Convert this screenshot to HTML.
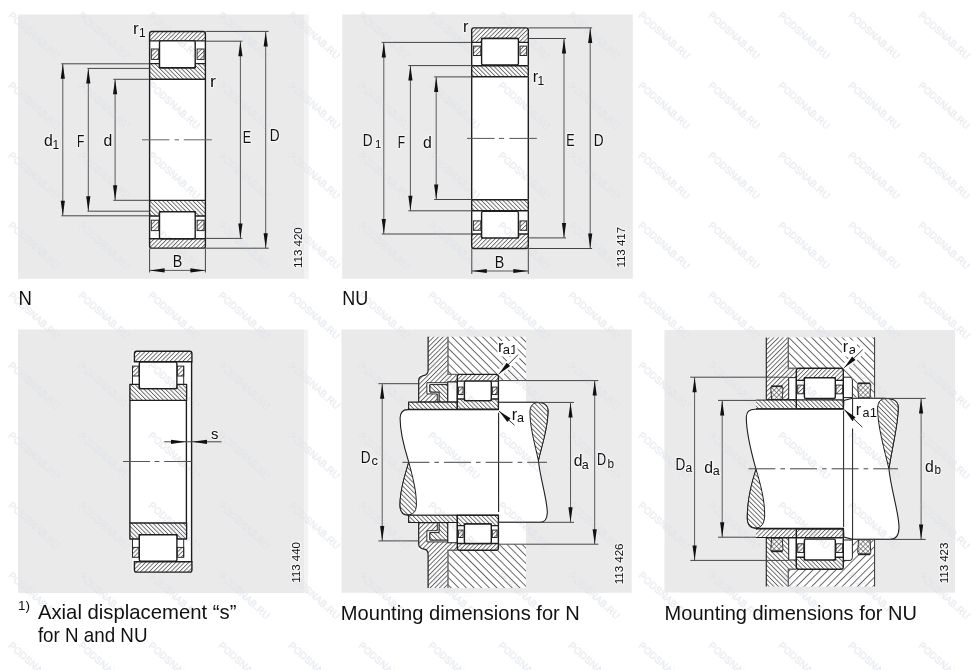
<!DOCTYPE html>
<html><head><meta charset="utf-8"><style>
html,body{margin:0;padding:0;background:#fff;overflow:hidden;width:976px;height:670px;}
svg{display:block;font-family:'Liberation Sans', sans-serif;will-change:transform;}
</style></head><body>
<svg width="976" height="670" viewBox="0 0 976 670">
<defs>
<pattern id="hA" patternUnits="userSpaceOnUse" width="3.05" height="10" patternTransform="rotate(45)">
  <rect x="0" y="0" width="3.05" height="10" fill="#fff"/>
  <line x1="0.5" y1="0" x2="0.5" y2="10" stroke="#2a2a2a" stroke-width="0.75"/>
</pattern>
<pattern id="hB" patternUnits="userSpaceOnUse" width="3.05" height="10" patternTransform="rotate(-45)">
  <rect x="0" y="0" width="3.05" height="10" fill="#fff"/>
  <line x1="0.5" y1="0" x2="0.5" y2="10" stroke="#2a2a2a" stroke-width="0.75"/>
</pattern>
<pattern id="hA2" patternUnits="userSpaceOnUse" width="5.4" height="10" patternTransform="rotate(45)">
  <rect x="0" y="0" width="5.4" height="10" fill="#fff"/>
  <line x1="0.5" y1="0" x2="0.5" y2="10" stroke="#2a2a2a" stroke-width="0.75"/>
</pattern>
<pattern id="hB2" patternUnits="userSpaceOnUse" width="5.4" height="10" patternTransform="rotate(-45)">
  <rect x="0" y="0" width="5.4" height="10" fill="#fff"/>
  <line x1="0.5" y1="0" x2="0.5" y2="10" stroke="#2a2a2a" stroke-width="0.75"/>
</pattern>
<pattern id="hC" patternUnits="userSpaceOnUse" width="3.3" height="10" patternTransform="rotate(45)">
  <rect x="0" y="0" width="3.3" height="10" fill="#fff"/>
  <line x1="0.5" y1="0" x2="0.5" y2="10" stroke="#2a2a2a" stroke-width="0.75"/>
</pattern>
<pattern id="hD" patternUnits="userSpaceOnUse" width="3.3" height="10" patternTransform="rotate(-45)">
  <rect x="0" y="0" width="3.3" height="10" fill="#fff"/>
  <line x1="0.5" y1="0" x2="0.5" y2="10" stroke="#2a2a2a" stroke-width="0.75"/>
</pattern>
<pattern id="hX" patternUnits="userSpaceOnUse" width="3.4" height="3.4" patternTransform="rotate(45)">
  <rect x="0" y="0" width="3.4" height="3.4" fill="#fff"/>
  <line x1="0.5" y1="0" x2="0.5" y2="3.4" stroke="#3a3a3a" stroke-width="0.55"/>
  <line x1="0" y1="0.5" x2="3.4" y2="0.5" stroke="#3a3a3a" stroke-width="0.55"/>
</pattern>
</defs>
<rect x="0" y="0" width="976" height="670" fill="#fff"/>
<rect x="18.00" y="14.50" width="286.60" height="264.30" rx="0" fill="#eaeaea" stroke="none" stroke-width="1" />
<rect x="304.60" y="14.50" width="4.10" height="264.30" rx="0" fill="#f2f2f2" stroke="none" stroke-width="1" />
<rect x="342.20" y="14.50" width="290.60" height="264.30" rx="0" fill="#eaeaea" stroke="none" stroke-width="1" />
<rect x="18.00" y="329.50" width="286.40" height="263.50" rx="0" fill="#eaeaea" stroke="none" stroke-width="1" />
<rect x="304.40" y="329.50" width="3.40" height="263.50" rx="0" fill="#f2f2f2" stroke="none" stroke-width="1" />
<rect x="341.50" y="329.50" width="290.20" height="263.30" rx="0" fill="#eaeaea" stroke="none" stroke-width="1" />
<rect x="664.50" y="330.00" width="290.50" height="262.60" rx="0" fill="#eaeaea" stroke="none" stroke-width="1" />
<rect x="149.60" y="31.50" width="55.80" height="216.60" rx="0" fill="#fff" stroke="none" stroke-width="1" />
<path d="M149.6,40.9 L149.6,33.7 Q149.6,31.5 151.79999999999998,31.5 L203.20000000000002,31.5 Q205.4,31.5 205.4,33.7 L205.4,40.9 Z" fill="url(#hA)" stroke="#1e1e1e" stroke-width="1.4" />
<path d="M149.6,63.6 L159.5,63.6 L159.5,67.8 L195.2,67.8 L195.2,63.6 L205.4,63.6 L205.4,79.2 L149.6,79.2 Z" fill="url(#hB)" stroke="#1e1e1e" stroke-width="1.4" stroke-linejoin="round"/>
<rect x="159.50" y="40.90" width="35.70" height="26.90" rx="1.5" fill="#fff" stroke="#1e1e1e" stroke-width="1.4" />
<rect x="151.30" y="49.00" width="7.40" height="10.40" rx="0" fill="url(#hA)" stroke="#2a2a2a" stroke-width="1.0" />
<rect x="197.10" y="49.00" width="7.00" height="10.40" rx="0" fill="url(#hA)" stroke="#2a2a2a" stroke-width="1.0" />
<path d="M149.6,238.70000000000002 L205.4,238.70000000000002 L205.4,245.90000000000003 Q205.4,248.10000000000002 203.20000000000002,248.10000000000002 L151.79999999999998,248.10000000000002 Q149.6,248.10000000000002 149.6,245.90000000000003 Z" fill="url(#hA)" stroke="#1e1e1e" stroke-width="1.4" />
<path d="M149.6,216.00000000000003 L159.5,216.00000000000003 L159.5,211.8 L195.2,211.8 L195.2,216.00000000000003 L205.4,216.00000000000003 L205.4,200.40000000000003 L149.6,200.40000000000003 Z" fill="url(#hB)" stroke="#1e1e1e" stroke-width="1.4" stroke-linejoin="round"/>
<rect x="159.50" y="211.80" width="35.70" height="26.90" rx="1.5" fill="#fff" stroke="#1e1e1e" stroke-width="1.4" />
<rect x="151.30" y="220.20" width="7.40" height="10.40" rx="0" fill="url(#hA)" stroke="#2a2a2a" stroke-width="1.0" />
<rect x="197.10" y="220.20" width="7.00" height="10.40" rx="0" fill="url(#hA)" stroke="#2a2a2a" stroke-width="1.0" />
<line x1="149.60" y1="40.90" x2="149.60" y2="63.60" stroke="#1e1e1e" stroke-width="1.4" />
<line x1="149.60" y1="216.00" x2="149.60" y2="238.70" stroke="#1e1e1e" stroke-width="1.4" />
<line x1="205.40" y1="40.90" x2="205.40" y2="63.60" stroke="#1e1e1e" stroke-width="1.4" />
<line x1="205.40" y1="216.00" x2="205.40" y2="238.70" stroke="#1e1e1e" stroke-width="1.4" />
<line x1="149.60" y1="79.20" x2="149.60" y2="200.40" stroke="#1e1e1e" stroke-width="1.4" />
<line x1="205.40" y1="79.20" x2="205.40" y2="200.40" stroke="#1e1e1e" stroke-width="1.4" />
<line x1="61.40" y1="63.80" x2="149.60" y2="63.80" stroke="#444" stroke-width="1" />
<line x1="61.40" y1="215.80" x2="149.60" y2="215.80" stroke="#444" stroke-width="1" />
<line x1="87.50" y1="68.40" x2="149.60" y2="68.40" stroke="#444" stroke-width="1" />
<line x1="87.50" y1="211.20" x2="149.60" y2="211.20" stroke="#444" stroke-width="1" />
<line x1="113.30" y1="79.30" x2="149.60" y2="79.30" stroke="#444" stroke-width="1" />
<line x1="113.30" y1="200.30" x2="149.60" y2="200.30" stroke="#444" stroke-width="1" />
<line x1="205.40" y1="31.40" x2="268.70" y2="31.40" stroke="#444" stroke-width="1" />
<line x1="205.40" y1="248.20" x2="268.70" y2="248.20" stroke="#444" stroke-width="1" />
<line x1="205.40" y1="41.20" x2="242.40" y2="41.20" stroke="#444" stroke-width="1" />
<line x1="205.40" y1="238.40" x2="242.40" y2="238.40" stroke="#444" stroke-width="1" />
<line x1="62.80" y1="63.80" x2="62.80" y2="215.80" stroke="#5a5a5a" stroke-width="1" />
<path d="M62.80,63.80 L64.90,78.80 L60.70,78.80 Z" fill="#111"/>
<path d="M62.80,215.80 L60.70,200.80 L64.90,200.80 Z" fill="#111"/>
<line x1="88.30" y1="68.40" x2="88.30" y2="211.20" stroke="#5a5a5a" stroke-width="1" />
<path d="M88.30,68.40 L90.40,83.40 L86.20,83.40 Z" fill="#111"/>
<path d="M88.30,211.20 L86.20,196.20 L90.40,196.20 Z" fill="#111"/>
<line x1="115.10" y1="79.30" x2="115.10" y2="200.30" stroke="#5a5a5a" stroke-width="1" />
<path d="M115.10,79.30 L117.20,94.30 L113.00,94.30 Z" fill="#111"/>
<path d="M115.10,200.30 L113.00,185.30 L117.20,185.30 Z" fill="#111"/>
<line x1="240.40" y1="41.20" x2="240.40" y2="238.40" stroke="#5a5a5a" stroke-width="1" />
<path d="M240.40,41.20 L242.50,56.20 L238.30,56.20 Z" fill="#111"/>
<path d="M240.40,238.40 L238.30,223.40 L242.50,223.40 Z" fill="#111"/>
<line x1="265.70" y1="31.40" x2="265.70" y2="248.20" stroke="#5a5a5a" stroke-width="1" />
<path d="M265.70,31.40 L267.80,46.40 L263.60,46.40 Z" fill="#111"/>
<path d="M265.70,248.20 L263.60,233.20 L267.80,233.20 Z" fill="#111"/>
<line x1="142.00" y1="139.80" x2="211.80" y2="139.80" stroke="#666" stroke-width="1" stroke-dasharray="27.4,5.2,4.4,4.8,60"/>
<line x1="149.60" y1="248.50" x2="149.60" y2="272.50" stroke="#444" stroke-width="1" />
<line x1="205.40" y1="248.50" x2="205.40" y2="272.50" stroke="#444" stroke-width="1" />
<line x1="149.60" y1="270.40" x2="205.40" y2="270.40" stroke="#5a5a5a" stroke-width="1" />
<path d="M149.60,270.40 L164.60,268.30 L164.60,272.50 Z" fill="#111"/>
<path d="M205.40,270.40 L190.40,272.50 L190.40,268.30 Z" fill="#111"/>
<text transform="translate(44.04,145.80) scale(0.97,1)" font-size="16.3" fill="#111" stroke="#fff" stroke-opacity="0.5" stroke-width="2.6" paint-order="stroke" stroke-linejoin="round">d</text>
<text transform="translate(52.59,148.60) scale(1.0,1)" font-size="12" fill="#111" stroke="#fff" stroke-opacity="0.5" stroke-width="2.6" paint-order="stroke" stroke-linejoin="round">1</text>
<text transform="translate(76.92,146.80) scale(0.72,1)" font-size="16.6" fill="#111" stroke="#fff" stroke-opacity="0.5" stroke-width="2.6" paint-order="stroke" stroke-linejoin="round">F</text>
<text transform="translate(103.54,146.30) scale(0.97,1)" font-size="16.3" fill="#111" stroke="#fff" stroke-opacity="0.5" stroke-width="2.6" paint-order="stroke" stroke-linejoin="round">d</text>
<text transform="translate(242.77,142.70) scale(0.76,1)" font-size="16.6" fill="#111" stroke="#fff" stroke-opacity="0.5" stroke-width="2.6" paint-order="stroke" stroke-linejoin="round">E</text>
<text transform="translate(269.68,140.70) scale(0.82,1)" font-size="16.6" fill="#111" stroke="#fff" stroke-opacity="0.5" stroke-width="2.6" paint-order="stroke" stroke-linejoin="round">D</text>
<text transform="translate(172.73,266.80) scale(0.86,1)" font-size="16.6" fill="#111" stroke="#fff" stroke-opacity="0.5" stroke-width="2.6" paint-order="stroke" stroke-linejoin="round">B</text>
<text transform="translate(132.97,33.90) scale(1.05,1)" font-size="16.2" fill="#111" stroke="#fff" stroke-opacity="0.5" stroke-width="2.6" paint-order="stroke" stroke-linejoin="round">r</text>
<text transform="translate(139.09,36.60) scale(1.0,1)" font-size="12" fill="#111" stroke="#fff" stroke-opacity="0.5" stroke-width="2.6" paint-order="stroke" stroke-linejoin="round">1</text>
<text transform="translate(210.02,86.80) scale(1.1,1)" font-size="16.2" fill="#111" stroke="#fff" stroke-opacity="0.5" stroke-width="2.6" paint-order="stroke" stroke-linejoin="round">r</text>
<text transform="translate(301.8,268) rotate(-90)" font-size="11.5" fill="#111" stroke="#fff" stroke-opacity="0.5" stroke-width="2.6" paint-order="stroke" stroke-linejoin="round">113 420</text>
<rect x="471.70" y="27.90" width="56.60" height="220.60" rx="0" fill="#fff" stroke="none" stroke-width="1" />
<path d="M471.7,42.4 L471.7,30.099999999999998 Q471.7,27.9 473.9,27.9 L526.0999999999999,27.9 Q528.3,27.9 528.3,30.099999999999998 L528.3,42.4 L518.4,42.4 L518.4,38.5 L481.6,38.5 L481.6,42.4 Z" fill="url(#hA)" stroke="#1e1e1e" stroke-width="1.4" stroke-linejoin="round"/>
<rect x="471.70" y="65.70" width="56.60" height="11.00" rx="1.2" fill="url(#hB)" stroke="#1e1e1e" stroke-width="1.4" />
<rect x="481.60" y="38.50" width="36.80" height="26.50" rx="1.5" fill="#fff" stroke="#1e1e1e" stroke-width="1.4" />
<rect x="473.40" y="46.10" width="7.40" height="9.40" rx="0" fill="url(#hA)" stroke="#2a2a2a" stroke-width="1.0" />
<rect x="520.00" y="46.10" width="6.70" height="9.40" rx="0" fill="url(#hA)" stroke="#2a2a2a" stroke-width="1.0" />
<path d="M471.7,233.99999999999997 L471.7,246.29999999999998 Q471.7,248.49999999999997 473.9,248.49999999999997 L526.0999999999999,248.49999999999997 Q528.3,248.49999999999997 528.3,246.29999999999998 L528.3,233.99999999999997 L518.4,233.99999999999997 L518.4,237.89999999999998 L481.6,237.89999999999998 L481.6,233.99999999999997 Z" fill="url(#hA)" stroke="#1e1e1e" stroke-width="1.4" stroke-linejoin="round"/>
<rect x="471.70" y="199.70" width="56.60" height="11.00" rx="1.2" fill="url(#hB)" stroke="#1e1e1e" stroke-width="1.4" />
<rect x="481.60" y="211.40" width="36.80" height="26.50" rx="1.5" fill="#fff" stroke="#1e1e1e" stroke-width="1.4" />
<rect x="473.40" y="220.90" width="7.40" height="9.40" rx="0" fill="url(#hA)" stroke="#2a2a2a" stroke-width="1.0" />
<rect x="520.00" y="220.90" width="6.70" height="9.40" rx="0" fill="url(#hA)" stroke="#2a2a2a" stroke-width="1.0" />
<line x1="471.70" y1="42.40" x2="471.70" y2="65.70" stroke="#1e1e1e" stroke-width="1.4" />
<line x1="471.70" y1="210.70" x2="471.70" y2="234.00" stroke="#1e1e1e" stroke-width="1.4" />
<line x1="528.30" y1="42.40" x2="528.30" y2="65.70" stroke="#1e1e1e" stroke-width="1.4" />
<line x1="528.30" y1="210.70" x2="528.30" y2="234.00" stroke="#1e1e1e" stroke-width="1.4" />
<line x1="471.70" y1="76.70" x2="471.70" y2="199.70" stroke="#1e1e1e" stroke-width="1.4" />
<line x1="528.30" y1="76.70" x2="528.30" y2="199.70" stroke="#1e1e1e" stroke-width="1.4" />
<line x1="381.70" y1="42.40" x2="471.70" y2="42.40" stroke="#444" stroke-width="1" />
<line x1="381.70" y1="234.00" x2="471.70" y2="234.00" stroke="#444" stroke-width="1" />
<line x1="408.30" y1="65.60" x2="471.70" y2="65.60" stroke="#444" stroke-width="1" />
<line x1="408.30" y1="210.80" x2="471.70" y2="210.80" stroke="#444" stroke-width="1" />
<line x1="434.20" y1="76.90" x2="471.70" y2="76.90" stroke="#444" stroke-width="1" />
<line x1="434.20" y1="199.50" x2="471.70" y2="199.50" stroke="#444" stroke-width="1" />
<line x1="528.30" y1="27.90" x2="592.10" y2="27.90" stroke="#444" stroke-width="1" />
<line x1="528.30" y1="248.50" x2="592.10" y2="248.50" stroke="#444" stroke-width="1" />
<line x1="528.30" y1="38.50" x2="566.00" y2="38.50" stroke="#444" stroke-width="1" />
<line x1="528.30" y1="237.90" x2="566.00" y2="237.90" stroke="#444" stroke-width="1" />
<line x1="383.80" y1="42.40" x2="383.80" y2="234.00" stroke="#5a5a5a" stroke-width="1" />
<path d="M383.80,42.40 L385.90,57.40 L381.70,57.40 Z" fill="#111"/>
<path d="M383.80,234.00 L381.70,219.00 L385.90,219.00 Z" fill="#111"/>
<line x1="410.40" y1="65.60" x2="410.40" y2="210.80" stroke="#5a5a5a" stroke-width="1" />
<path d="M410.40,65.60 L412.50,80.60 L408.30,80.60 Z" fill="#111"/>
<path d="M410.40,210.80 L408.30,195.80 L412.50,195.80 Z" fill="#111"/>
<line x1="436.20" y1="76.90" x2="436.20" y2="199.50" stroke="#5a5a5a" stroke-width="1" />
<path d="M436.20,76.90 L438.30,91.90 L434.10,91.90 Z" fill="#111"/>
<path d="M436.20,199.50 L434.10,184.50 L438.30,184.50 Z" fill="#111"/>
<line x1="564.00" y1="38.50" x2="564.00" y2="237.90" stroke="#5a5a5a" stroke-width="1" />
<path d="M564.00,38.50 L566.10,53.50 L561.90,53.50 Z" fill="#111"/>
<path d="M564.00,237.90 L561.90,222.90 L566.10,222.90 Z" fill="#111"/>
<line x1="590.20" y1="27.90" x2="590.20" y2="248.50" stroke="#5a5a5a" stroke-width="1" />
<path d="M590.20,27.90 L592.30,42.90 L588.10,42.90 Z" fill="#111"/>
<path d="M590.20,248.50 L588.10,233.50 L592.30,233.50 Z" fill="#111"/>
<line x1="467.10" y1="138.40" x2="536.80" y2="138.40" stroke="#555" stroke-width="1" stroke-dasharray="27.5,4.4,5.2,5.2,60"/>
<line x1="471.80" y1="248.50" x2="471.80" y2="274.00" stroke="#444" stroke-width="1" />
<line x1="528.30" y1="248.50" x2="528.30" y2="274.00" stroke="#444" stroke-width="1" />
<line x1="471.80" y1="271.00" x2="528.30" y2="271.00" stroke="#5a5a5a" stroke-width="1" />
<path d="M471.80,271.00 L486.80,268.90 L486.80,273.10 Z" fill="#111"/>
<path d="M528.30,271.00 L513.30,273.10 L513.30,268.90 Z" fill="#111"/>
<text transform="translate(362.68,145.70) scale(0.82,1)" font-size="16.6" fill="#111" stroke="#fff" stroke-opacity="0.5" stroke-width="2.6" paint-order="stroke" stroke-linejoin="round">D</text>
<text transform="translate(374.92,147.70) scale(1.0,1)" font-size="11.5" fill="#111" stroke="#fff" stroke-opacity="0.5" stroke-width="2.6" paint-order="stroke" stroke-linejoin="round">1</text>
<text transform="translate(397.82,147.70) scale(0.72,1)" font-size="16.6" fill="#111" stroke="#fff" stroke-opacity="0.5" stroke-width="2.6" paint-order="stroke" stroke-linejoin="round">F</text>
<text transform="translate(423.04,147.70) scale(0.97,1)" font-size="16.3" fill="#111" stroke="#fff" stroke-opacity="0.5" stroke-width="2.6" paint-order="stroke" stroke-linejoin="round">d</text>
<text transform="translate(566.37,145.50) scale(0.76,1)" font-size="16.6" fill="#111" stroke="#fff" stroke-opacity="0.5" stroke-width="2.6" paint-order="stroke" stroke-linejoin="round">E</text>
<text transform="translate(593.78,145.50) scale(0.82,1)" font-size="16.6" fill="#111" stroke="#fff" stroke-opacity="0.5" stroke-width="2.6" paint-order="stroke" stroke-linejoin="round">D</text>
<text transform="translate(494.63,267.70) scale(0.86,1)" font-size="16.6" fill="#111" stroke="#fff" stroke-opacity="0.5" stroke-width="2.6" paint-order="stroke" stroke-linejoin="round">B</text>
<text transform="translate(462.92,32.20) scale(1.0,1)" font-size="16.2" fill="#111" stroke="#fff" stroke-opacity="0.5" stroke-width="2.6" paint-order="stroke" stroke-linejoin="round">r</text>
<text transform="translate(532.82,82.10) scale(1.0,1)" font-size="16.2" fill="#111" stroke="#fff" stroke-opacity="0.5" stroke-width="2.6" paint-order="stroke" stroke-linejoin="round">r</text>
<text transform="translate(537.49,84.80) scale(1.0,1)" font-size="12" fill="#111" stroke="#fff" stroke-opacity="0.5" stroke-width="2.6" paint-order="stroke" stroke-linejoin="round">1</text>
<text transform="translate(624.6,267.6) rotate(-90)" font-size="11.5" fill="#111" stroke="#fff" stroke-opacity="0.5" stroke-width="2.6" paint-order="stroke" stroke-linejoin="round">113 417</text>
<rect x="132.50" y="351.30" width="59.40" height="220.80" rx="0" fill="#fff" stroke="none" stroke-width="1" />
<rect x="129.90" y="384.40" width="56.70" height="154.60" rx="0" fill="#fff" stroke="none" stroke-width="1" />
<path d="M134.4,361.7 L134.4,353.5 Q134.4,351.3 136.6,351.3 L189.70000000000002,351.3 Q191.9,351.3 191.9,353.5 L191.9,361.7 Z" fill="url(#hA)" stroke="#1e1e1e" stroke-width="1.4" />
<path d="M129.9,384.4 L139.3,384.4 L139.3,388.6 L176.9,388.6 L176.9,384.4 L186.6,384.4 L186.6,400.4 L129.9,400.4 Z" fill="url(#hB)" stroke="#1e1e1e" stroke-width="1.4" stroke-linejoin="round"/>
<rect x="139.30" y="362.10" width="37.60" height="26.50" rx="1.5" fill="#fff" stroke="#1e1e1e" stroke-width="1.4" />
<rect x="132.50" y="366.10" width="6.30" height="9.90" rx="0" fill="url(#hA)" stroke="#2a2a2a" stroke-width="1.0" />
<rect x="177.40" y="366.10" width="6.30" height="9.90" rx="0" fill="url(#hA)" stroke="#2a2a2a" stroke-width="1.0" />
<path d="M134.4,561.7 L191.9,561.7 L191.9,569.8999999999999 Q191.9,572.0999999999999 189.70000000000002,572.0999999999999 L136.6,572.0999999999999 Q134.4,572.0999999999999 134.4,569.8999999999999 Z" fill="url(#hA)" stroke="#1e1e1e" stroke-width="1.4" />
<path d="M129.9,539.0 L139.3,539.0 L139.3,534.8 L176.9,534.8 L176.9,539.0 L186.6,539.0 L186.6,523.0 L129.9,523.0 Z" fill="url(#hB)" stroke="#1e1e1e" stroke-width="1.4" stroke-linejoin="round"/>
<rect x="139.30" y="534.80" width="37.60" height="26.50" rx="1.5" fill="#fff" stroke="#1e1e1e" stroke-width="1.4" />
<rect x="132.50" y="547.40" width="6.30" height="9.90" rx="0" fill="url(#hA)" stroke="#2a2a2a" stroke-width="1.0" />
<rect x="177.40" y="547.40" width="6.30" height="9.90" rx="0" fill="url(#hA)" stroke="#2a2a2a" stroke-width="1.0" />
<line x1="132.50" y1="366.10" x2="132.50" y2="384.40" stroke="#2a2a2a" stroke-width="1.0" />
<line x1="183.70" y1="366.10" x2="183.70" y2="384.40" stroke="#2a2a2a" stroke-width="1.0" />
<line x1="132.50" y1="539.00" x2="132.50" y2="557.30" stroke="#2a2a2a" stroke-width="1.0" />
<line x1="183.70" y1="539.00" x2="183.70" y2="557.30" stroke="#2a2a2a" stroke-width="1.0" />
<line x1="129.90" y1="400.40" x2="129.90" y2="523.00" stroke="#1e1e1e" stroke-width="1.4" />
<line x1="186.40" y1="400.40" x2="186.40" y2="523.00" stroke="#1e1e1e" stroke-width="1.4" />
<line x1="191.60" y1="361.70" x2="191.60" y2="561.70" stroke="#1e1e1e" stroke-width="1.4" />
<line x1="164.20" y1="441.80" x2="221.50" y2="441.80" stroke="#444" stroke-width="1" />
<path d="M186.00,441.80 L171.00,443.90 L171.00,439.70 Z" fill="#111"/>
<path d="M192.00,441.80 L207.00,439.70 L207.00,443.90 Z" fill="#111"/>
<text transform="translate(210.99,438.80) scale(0.98,1)" font-size="15.2" fill="#111" stroke="#fff" stroke-opacity="0.5" stroke-width="2.6" paint-order="stroke" stroke-linejoin="round">s</text>
<line x1="123.00" y1="461.50" x2="191.70" y2="461.50" stroke="#555" stroke-width="1" stroke-dasharray="26.9,4.7,4.8,4.8,60"/>
<text transform="translate(300,582.7) rotate(-90)" font-size="11.5" fill="#111" stroke="#fff" stroke-opacity="0.5" stroke-width="2.6" paint-order="stroke" stroke-linejoin="round">113 440</text>
<rect x="418.70" y="374.40" width="107.30" height="175.80" rx="0" fill="#fff" stroke="none" stroke-width="1" />
<path d="M448.00,336.70 L526.00,336.70 L526.00,380.20 L498.40,380.20 L498.40,374.40 L448.00,374.40 Z" fill="url(#hB2)" stroke="none" stroke-width="1" />
<path d="M428.1,336.7 L448,336.7 L448,374.4 L457.3,374.4 L457.3,381.9 L447.8,381.9 L447.8,402 L418.7,402 L418.7,380.5 Q418.7,377 422,376 L425,375.2 Q428.1,374.2 428.1,370 Z" fill="url(#hC)" stroke="none" stroke-width="1" />
<path d="M428.1,336.7 L428.1,370 Q428.1,374.2 425,375.2 L422,376 Q418.7,377 418.7,380.5 L418.7,402 L437.3,402" fill="none" stroke="#1e1e1e" stroke-width="1.2" />
<path d="M448,336.7 L448,374.4 L457.3,374.4" fill="none" stroke="#666" stroke-width="1.4" />
<path d="M426.90,382.70 L447.80,382.70 L447.80,384.60 L429.90,384.60 L429.90,392.00 L439.20,392.00 L439.20,402.00 L437.30,402.00 L437.30,393.90 L426.90,393.90 Z" fill="#fff" stroke="#1e1e1e" stroke-width="0.9" />
<path d="M429.90,384.60 L447.80,384.60 L447.80,402.00 L439.20,402.00 L439.20,392.00 L429.90,392.00 Z" fill="url(#hB)" stroke="#1e1e1e" stroke-width="0.9" />
<path d="M447.80,381.90 L457.30,381.90 L457.30,402.10 L447.80,402.10 Z" fill="#fff" stroke="#1e1e1e" stroke-width="1.1" />
<path d="M448.00,587.90 L526.00,587.90 L526.00,544.40 L498.40,544.40 L498.40,550.20 L448.00,550.20 Z" fill="url(#hB2)" stroke="none" stroke-width="1" />
<path d="M 428.10,587.90 L 448.00,587.90 L 448.00,550.20 L 457.30,550.20 L 457.30,542.70 L 447.80,542.70 L 447.80,522.60 L 418.70,522.60 L 418.70,544.10 Q 418.70,547.60 422.00,548.60 L 425.00,549.40 Q 428.10,550.40 428.10,554.60 Z" fill="url(#hC)" stroke="none" stroke-width="1" />
<path d="M 428.10,587.90 L 428.10,554.60 Q 428.10,550.40 425.00,549.40 L 422.00,548.60 Q 418.70,547.60 418.70,544.10 L 418.70,522.60 L 437.30,522.60" fill="none" stroke="#1e1e1e" stroke-width="1.2" />
<path d="M 448.00,587.90 L 448.00,550.20 L 457.30,550.20" fill="none" stroke="#666" stroke-width="1.4" />
<path d="M426.90,541.90 L447.80,541.90 L447.80,540.00 L429.90,540.00 L429.90,532.60 L439.20,532.60 L439.20,522.60 L437.30,522.60 L437.30,530.70 L426.90,530.70 Z" fill="#fff" stroke="#1e1e1e" stroke-width="0.9" />
<path d="M429.90,540.00 L447.80,540.00 L447.80,522.60 L439.20,522.60 L439.20,532.60 L429.90,532.60 Z" fill="url(#hB)" stroke="#1e1e1e" stroke-width="0.9" />
<path d="M447.80,542.70 L457.30,542.70 L457.30,522.50 L447.80,522.50 Z" fill="#fff" stroke="#1e1e1e" stroke-width="1.1" />
<path d="M407.5,409.6 L498.4,409.6 L498.4,402.3 L537,402.3 C543,402.3 548.5,404.5 548,412 C547.5,430 541,448 538.4,460.5 C540,478 547.5,500 547.3,513 Q547,522.3 540,522.3 L498.4,522.3 L498.4,515.2 L408,515.2 C402.5,515.2 400,511 400,505 C400,490 405,475 408.8,462.1 C405,450 400,435 400.1,418 Q400.5,409.6 407.5,409.6 Z" fill="#fff" stroke="#1e1e1e" stroke-width="1.1" />
<path d="M538.4,460.5 C535,445 529.4,425 530,411 C530.5,404.5 534,402.6 538,402.6 C544,402.6 548.3,405 548,412 C547.5,430 541,448 538.4,460.5 Z" fill="url(#hD)" stroke="#1e1e1e" stroke-width="1.0" />
<path d="M408.8,462.1 C412,475 416.6,490 416.4,505 C416,512 413,514.8 408,514.8 C403,514.8 400,511 400,505 C400,490 405,475 408.8,462.1 Z" fill="url(#hD)" stroke="#1e1e1e" stroke-width="1.0" />
<path d="M408.60,402.10 L457.30,402.10 L457.30,409.40 L408.60,409.40 Z" fill="url(#hB)" stroke="#1e1e1e" stroke-width="1.1" />
<path d="M408.60,522.50 L457.30,522.50 L457.30,515.20 L408.60,515.20 Z" fill="url(#hB)" stroke="#1e1e1e" stroke-width="1.1" />
<rect x="457.30" y="381.10" width="41.10" height="17.90" rx="0" fill="#fff" stroke="none" stroke-width="1" />
<rect x="457.30" y="525.60" width="41.10" height="17.90" rx="0" fill="#fff" stroke="none" stroke-width="1" />
<path d="M457.3,381.1 L457.3,376.59999999999997 Q457.3,374.4 459.5,374.4 L496.2,374.4 Q498.4,374.4 498.4,376.59999999999997 L498.4,381.1 Z" fill="url(#hA)" stroke="#1e1e1e" stroke-width="1.4" />
<path d="M457.3,399.0 L464.4,399.0 L464.4,400.6 L491.3,400.6 L491.3,399.0 L498.4,399.0 L498.4,409.3 L457.3,409.3 Z" fill="url(#hB)" stroke="#1e1e1e" stroke-width="1.4" stroke-linejoin="round"/>
<rect x="464.40" y="381.10" width="26.90" height="19.50" rx="1.5" fill="#fff" stroke="#1e1e1e" stroke-width="1.4" />
<rect x="458.40" y="387.10" width="4.70" height="7.40" rx="0" fill="url(#hA)" stroke="#2a2a2a" stroke-width="1.0" />
<rect x="492.30" y="387.10" width="4.80" height="7.40" rx="0" fill="url(#hA)" stroke="#2a2a2a" stroke-width="1.0" />
<path d="M457.3,543.5 L498.4,543.5 L498.4,548.0 Q498.4,550.2 496.2,550.2 L459.5,550.2 Q457.3,550.2 457.3,548.0 Z" fill="url(#hA)" stroke="#1e1e1e" stroke-width="1.4" />
<path d="M457.3,525.6 L464.4,525.6 L464.4,524.0 L491.3,524.0 L491.3,525.6 L498.4,525.6 L498.4,515.3 L457.3,515.3 Z" fill="url(#hB)" stroke="#1e1e1e" stroke-width="1.4" stroke-linejoin="round"/>
<rect x="464.40" y="524.00" width="26.90" height="19.50" rx="1.5" fill="#fff" stroke="#1e1e1e" stroke-width="1.4" />
<rect x="458.40" y="530.10" width="4.70" height="7.40" rx="0" fill="url(#hA)" stroke="#2a2a2a" stroke-width="1.0" />
<rect x="492.30" y="530.10" width="4.80" height="7.40" rx="0" fill="url(#hA)" stroke="#2a2a2a" stroke-width="1.0" />
<line x1="457.30" y1="381.10" x2="457.30" y2="399.00" stroke="#1e1e1e" stroke-width="1.4" />
<line x1="457.30" y1="525.60" x2="457.30" y2="543.50" stroke="#1e1e1e" stroke-width="1.4" />
<line x1="498.40" y1="381.10" x2="498.40" y2="399.00" stroke="#1e1e1e" stroke-width="1.4" />
<line x1="498.40" y1="525.60" x2="498.40" y2="543.50" stroke="#1e1e1e" stroke-width="1.4" />
<line x1="498.60" y1="412.70" x2="498.60" y2="511.90" stroke="#1e1e1e" stroke-width="1.1" />
<line x1="402.40" y1="462.30" x2="547.00" y2="462.30" stroke="#444" stroke-width="1" stroke-dasharray="27,5,4.6,5"/>
<line x1="378.40" y1="383.70" x2="418.70" y2="383.70" stroke="#444" stroke-width="1" />
<line x1="378.40" y1="540.90" x2="418.70" y2="540.90" stroke="#444" stroke-width="1" />
<line x1="382.20" y1="383.70" x2="382.20" y2="540.90" stroke="#5a5a5a" stroke-width="1" />
<path d="M382.20,383.70 L384.30,398.70 L380.10,398.70 Z" fill="#111"/>
<path d="M382.20,540.90 L380.10,525.90 L384.30,525.90 Z" fill="#111"/>
<line x1="498.40" y1="402.40" x2="574.00" y2="402.40" stroke="#444" stroke-width="1" />
<line x1="498.40" y1="522.30" x2="574.00" y2="522.30" stroke="#444" stroke-width="1" />
<line x1="570.50" y1="402.40" x2="570.50" y2="522.30" stroke="#5a5a5a" stroke-width="1" />
<path d="M570.50,402.40 L572.60,417.40 L568.40,417.40 Z" fill="#111"/>
<path d="M570.50,522.30 L568.40,507.30 L572.60,507.30 Z" fill="#111"/>
<line x1="498.40" y1="380.60" x2="598.30" y2="380.60" stroke="#444" stroke-width="1" />
<line x1="498.40" y1="544.20" x2="598.30" y2="544.20" stroke="#444" stroke-width="1" />
<line x1="594.70" y1="380.60" x2="594.70" y2="544.20" stroke="#5a5a5a" stroke-width="1" />
<path d="M594.70,380.60 L596.80,395.60 L592.60,395.60 Z" fill="#111"/>
<path d="M594.70,544.20 L592.60,529.20 L596.80,529.20 Z" fill="#111"/>
<text transform="translate(360.78,462.80) scale(0.82,1)" font-size="16.6" fill="#111" stroke="#fff" stroke-opacity="0.5" stroke-width="2.6" paint-order="stroke" stroke-linejoin="round">D</text>
<text transform="translate(371.45,465.00) scale(1.0,1)" font-size="13" fill="#111" stroke="#fff" stroke-opacity="0.5" stroke-width="2.6" paint-order="stroke" stroke-linejoin="round">c</text>
<text transform="translate(573.64,466.30) scale(0.97,1)" font-size="16.3" fill="#111" stroke="#fff" stroke-opacity="0.5" stroke-width="2.6" paint-order="stroke" stroke-linejoin="round">d</text>
<text transform="translate(581.76,468.50) scale(1.0,1)" font-size="12.6" fill="#111" stroke="#fff" stroke-opacity="0.5" stroke-width="2.6" paint-order="stroke" stroke-linejoin="round">a</text>
<text transform="translate(597.06,464.70) scale(0.78,1)" font-size="16.2" fill="#111" stroke="#fff" stroke-opacity="0.5" stroke-width="2.6" paint-order="stroke" stroke-linejoin="round">D</text>
<text transform="translate(607.44,467.50) scale(0.93,1)" font-size="12.7" fill="#111" stroke="#fff" stroke-opacity="0.5" stroke-width="2.6" paint-order="stroke" stroke-linejoin="round">b</text>
<rect x="497.50" y="341.00" width="20.00" height="15.50" rx="0" fill="#fff" stroke="none" stroke-width="1" />
<text transform="translate(498.02,351.60) scale(1.0,1)" font-size="16.2" fill="#111" stroke="#fff" stroke-opacity="0.5" stroke-width="2.6" paint-order="stroke" stroke-linejoin="round">r</text>
<text transform="translate(502.85,353.90) scale(1.0,1)" font-size="13" fill="#111" stroke="#fff" stroke-opacity="0.5" stroke-width="2.6" paint-order="stroke" stroke-linejoin="round">a</text>
<text transform="translate(510.24,353.90) scale(1.0,1)" font-size="12.6" fill="#111" stroke="#fff" stroke-opacity="0.5" stroke-width="2.6" paint-order="stroke" stroke-linejoin="round">1</text>
<line x1="519.00" y1="353.70" x2="500.50" y2="372.40" stroke="#fff" stroke-width="7" />
<line x1="518.10" y1="354.60" x2="498.90" y2="374.00" stroke="#222" stroke-width="0.9" />
<path d="M498.90,374.00 L506.69,362.72 L510.10,366.09 Z" fill="#111"/>
<text transform="translate(511.82,419.70) scale(1.0,1)" font-size="16.2" fill="#111" stroke="#fff" stroke-opacity="0.5" stroke-width="2.6" paint-order="stroke" stroke-linejoin="round">r</text>
<text transform="translate(517.06,422.40) scale(1.0,1)" font-size="12.6" fill="#111" stroke="#fff" stroke-opacity="0.5" stroke-width="2.6" paint-order="stroke" stroke-linejoin="round">a</text>
<line x1="514.50" y1="425.20" x2="499.00" y2="411.00" stroke="#222" stroke-width="0.9" />
<path d="M499.00,411.00 L510.58,418.35 L507.33,421.89 Z" fill="#111"/>
<text transform="translate(623.4,584.2) rotate(-90)" font-size="11.5" fill="#111" stroke="#fff" stroke-opacity="0.5" stroke-width="2.6" paint-order="stroke" stroke-linejoin="round">113 426</text>
<rect x="766.10" y="368.30" width="108.50" height="201.00" rx="0" fill="#fff" stroke="none" stroke-width="1" />
<path d="M788.30,337.40 L874.60,337.40 L874.60,397.60 L852.60,397.60 L852.60,377.20 L843.30,377.20 L843.30,368.30 L788.30,368.30 Z" fill="url(#hB2)" stroke="none" stroke-width="1" />
<path d="M766.10,337.40 L788.30,337.40 L788.30,368.30 L796.30,368.30 L796.30,377.60 L788.70,377.60 L788.70,399.60 L766.10,399.60 Z" fill="url(#hC)" stroke="none" stroke-width="1" />
<line x1="766.30" y1="337.40" x2="766.30" y2="399.60" stroke="#1e1e1e" stroke-width="1.1" />
<line x1="874.60" y1="337.40" x2="874.60" y2="397.60" stroke="#333" stroke-width="1.0" />
<path d="M788.3,337.4 L788.3,368.3 L796.3,368.3" fill="none" stroke="#666" stroke-width="1.4" />
<path d="M788.70,377.60 L796.30,377.60 L796.30,399.60 L788.70,399.60 Z" fill="#fff" stroke="#1e1e1e" stroke-width="1.0" />
<path d="M843.5,377.2 L850,377.2 Q852.4,377.2 852.4,380 L852.4,397.6 L843.5,397.6 Z" fill="#fff" stroke="#1e1e1e" stroke-width="1.0" />
<path d="M771.6,399.6 L770.8,388.2 Q770.8,386.6 772.4,386.6 L781.4,386.6 Q783,386.6 783,388.2 L782.2,399.6 Z" fill="url(#hX)" stroke="#1e1e1e" stroke-width="0.9" />
<path d="M771.2,386.2 L782.6,386.2" fill="none" stroke="#222" stroke-width="1.6" />
<path d="M858.5,397.8 L857.7,385.2 Q857.7,383.6 859.3,383.6 L869.2,383.6 Q870.8,383.6 870.8,385.2 L870.0,397.8 Z" fill="url(#hX)" stroke="#1e1e1e" stroke-width="0.9" />
<path d="M858.1,383.2 L870.4,383.2" fill="none" stroke="#222" stroke-width="1.6" />
<path d="M766.1,399.6 L788.7,399.6" fill="none" stroke="#1e1e1e" stroke-width="1.0" />
<path d="M788.30,586.50 L874.60,586.50 L874.60,540.00 L852.60,540.00 L852.60,560.40 L843.30,560.40 L843.30,569.30 L788.30,569.30 Z" fill="url(#hA2)" stroke="none" stroke-width="1" />
<path d="M766.10,586.50 L788.30,586.50 L788.30,569.30 L796.30,569.30 L796.30,560.00 L788.70,560.00 L788.70,538.00 L766.10,538.00 Z" fill="url(#hD)" stroke="none" stroke-width="1" />
<line x1="766.30" y1="586.50" x2="766.30" y2="538.00" stroke="#1e1e1e" stroke-width="1.1" />
<line x1="874.60" y1="586.50" x2="874.60" y2="540.00" stroke="#333" stroke-width="1.0" />
<path d="M 788.30,586.50 L 788.30,569.30 L 796.30,569.30" fill="none" stroke="#666" stroke-width="1.4" />
<path d="M788.70,560.00 L796.30,560.00 L796.30,538.00 L788.70,538.00 Z" fill="#fff" stroke="#1e1e1e" stroke-width="1.0" />
<path d="M 843.50,560.40 L 850.00,560.40 Q 852.40,560.40 852.40,557.60 L 852.40,540.00 L 843.50,540.00 Z" fill="#fff" stroke="#1e1e1e" stroke-width="1.0" />
<path d="M 771.60,538.00 L 770.80,549.40 Q 770.80,551.00 772.40,551.00 L 781.40,551.00 Q 783.00,551.00 783.00,549.40 L 782.20,538.00 Z" fill="url(#hX)" stroke="#1e1e1e" stroke-width="0.9" />
<path d="M 771.20,551.40 L 782.60,551.40" fill="none" stroke="#222" stroke-width="1.6" />
<path d="M 858.50,539.80 L 857.70,552.40 Q 857.70,554.00 859.30,554.00 L 869.20,554.00 Q 870.80,554.00 870.80,552.40 L 870.00,539.80 Z" fill="url(#hX)" stroke="#1e1e1e" stroke-width="0.9" />
<path d="M 858.10,554.40 L 870.40,554.40" fill="none" stroke="#222" stroke-width="1.6" />
<path d="M 766.10,538.00 L 788.70,538.00" fill="none" stroke="#1e1e1e" stroke-width="1.0" />
<path d="M755,409.2 L843.5,409.2 L843.9,400.5 L852.4,398.2 L884,398.2 C891,398.2 898.5,400 898.2,408 C898,425 892,448 888.9,468.8 C891,490 899.5,515 899,528 Q898.7,539.4 890,539.4 L852.4,539.4 L843.9,537.1 L843.5,528.4 L757,528.4 C750,528.4 747.3,524 747.3,518 C747.3,500 751,485 756,469.3 C752,455 746.3,435 746.3,417 Q746.5,409.2 755,409.2 Z" fill="#fff" stroke="#1e1e1e" stroke-width="1.1" />
<path d="M888.9,468.8 C885,452 877.2,425 877.6,408 C878,401 881,398.6 886,398.6 C893,398.6 898.5,401 898.2,408 C898,425 892,448 888.9,468.8 Z" fill="url(#hD)" stroke="#1e1e1e" stroke-width="1.0" />
<path d="M756,469.3 C760,482 764.8,500 764.7,515 C764.5,524 761,527.9 756,527.9 C750.5,527.9 747.3,524 747.3,518 C747.3,500 751,485 756,469.3 Z" fill="url(#hD)" stroke="#1e1e1e" stroke-width="1.0" />
<path d="M756.00,400.10 L796.30,400.10 L796.30,408.60 L756.00,408.60 Z" fill="url(#hB)" stroke="none" stroke-width="1" />
<line x1="756.00" y1="400.10" x2="796.30" y2="400.10" stroke="#1e1e1e" stroke-width="1.0" />
<line x1="756.00" y1="408.60" x2="796.30" y2="408.60" stroke="#1e1e1e" stroke-width="1.0" />
<path d="M756.00,537.50 L796.30,537.50 L796.30,529.00 L756.00,529.00 Z" fill="url(#hA)" stroke="none" stroke-width="1" />
<line x1="756.00" y1="537.50" x2="796.30" y2="537.50" stroke="#1e1e1e" stroke-width="1.0" />
<line x1="756.00" y1="529.00" x2="796.30" y2="529.00" stroke="#1e1e1e" stroke-width="1.0" />
<path d="M796.3,380.4 L796.3,370.5 Q796.3,368.3 798.5,368.3 L841.0999999999999,368.3 Q843.3,368.3 843.3,370.5 L843.3,380.4 L835.3,380.4 L835.3,377.7 L804.4,377.7 L804.4,380.4 Z" fill="url(#hA)" stroke="#1e1e1e" stroke-width="1.4" stroke-linejoin="round"/>
<rect x="796.30" y="399.90" width="47.00" height="8.70" rx="1.2" fill="url(#hB)" stroke="#1e1e1e" stroke-width="1.4" />
<rect x="804.40" y="377.70" width="30.90" height="20.80" rx="1.5" fill="#fff" stroke="#1e1e1e" stroke-width="1.4" />
<rect x="797.70" y="385.10" width="6.00" height="8.70" rx="0" fill="url(#hA)" stroke="#2a2a2a" stroke-width="1.0" />
<rect x="836.00" y="385.10" width="6.70" height="8.70" rx="0" fill="url(#hA)" stroke="#2a2a2a" stroke-width="1.0" />
<path d="M796.3,557.2 L796.3,567.0999999999999 Q796.3,569.3 798.5,569.3 L841.0999999999999,569.3 Q843.3,569.3 843.3,567.0999999999999 L843.3,557.2 L835.3,557.2 L835.3,559.9000000000001 L804.4,559.9000000000001 L804.4,557.2 Z" fill="url(#hB)" stroke="#1e1e1e" stroke-width="1.4" stroke-linejoin="round"/>
<rect x="796.30" y="529.00" width="47.00" height="8.70" rx="1.2" fill="url(#hA)" stroke="#1e1e1e" stroke-width="1.4" />
<rect x="804.40" y="539.10" width="30.90" height="20.80" rx="1.5" fill="#fff" stroke="#1e1e1e" stroke-width="1.4" />
<rect x="797.70" y="543.80" width="6.00" height="8.70" rx="0" fill="url(#hA)" stroke="#2a2a2a" stroke-width="1.0" />
<rect x="836.00" y="543.80" width="6.70" height="8.70" rx="0" fill="url(#hA)" stroke="#2a2a2a" stroke-width="1.0" />
<line x1="796.30" y1="380.40" x2="796.30" y2="399.90" stroke="#1e1e1e" stroke-width="1.4" />
<line x1="796.30" y1="537.70" x2="796.30" y2="557.20" stroke="#1e1e1e" stroke-width="1.4" />
<line x1="843.30" y1="380.40" x2="843.30" y2="399.90" stroke="#1e1e1e" stroke-width="1.4" />
<line x1="843.30" y1="537.70" x2="843.30" y2="557.20" stroke="#1e1e1e" stroke-width="1.4" />
<line x1="843.60" y1="410.60" x2="843.60" y2="527.00" stroke="#1e1e1e" stroke-width="1.0" />
<line x1="852.60" y1="398.20" x2="852.60" y2="421.00" stroke="#1e1e1e" stroke-width="1.0" />
<line x1="852.60" y1="428.50" x2="852.60" y2="539.40" stroke="#1e1e1e" stroke-width="1.0" />
<line x1="748.40" y1="468.80" x2="898.00" y2="468.80" stroke="#444" stroke-width="1" stroke-dasharray="27,5,4.6,5"/>
<line x1="690.30" y1="377.20" x2="788.70" y2="377.20" stroke="#444" stroke-width="1" />
<line x1="690.30" y1="560.40" x2="788.70" y2="560.40" stroke="#444" stroke-width="1" />
<line x1="694.60" y1="377.20" x2="694.60" y2="560.40" stroke="#5a5a5a" stroke-width="1" />
<path d="M694.60,377.20 L696.70,392.20 L692.50,392.20 Z" fill="#111"/>
<path d="M694.60,560.40 L692.50,545.40 L696.70,545.40 Z" fill="#111"/>
<line x1="718.00" y1="400.40" x2="756.00" y2="400.40" stroke="#444" stroke-width="1" />
<line x1="718.00" y1="537.20" x2="756.00" y2="537.20" stroke="#444" stroke-width="1" />
<line x1="722.20" y1="400.40" x2="722.20" y2="537.20" stroke="#5a5a5a" stroke-width="1" />
<path d="M722.20,400.40 L724.30,415.40 L720.10,415.40 Z" fill="#111"/>
<path d="M722.20,537.20 L720.10,522.20 L724.30,522.20 Z" fill="#111"/>
<line x1="852.60" y1="398.40" x2="925.70" y2="398.40" stroke="#444" stroke-width="1" />
<line x1="852.60" y1="539.40" x2="925.70" y2="539.40" stroke="#444" stroke-width="1" />
<line x1="921.10" y1="398.40" x2="921.10" y2="539.40" stroke="#5a5a5a" stroke-width="1" />
<path d="M921.10,398.40 L923.20,413.40 L919.00,413.40 Z" fill="#111"/>
<path d="M921.10,539.40 L919.00,524.40 L923.20,524.40 Z" fill="#111"/>
<text transform="translate(675.48,469.60) scale(0.82,1)" font-size="16.6" fill="#111" stroke="#fff" stroke-opacity="0.5" stroke-width="2.6" paint-order="stroke" stroke-linejoin="round">D</text>
<text transform="translate(685.49,471.80) scale(1.0,1)" font-size="12" fill="#111" stroke="#fff" stroke-opacity="0.5" stroke-width="2.6" paint-order="stroke" stroke-linejoin="round">a</text>
<text transform="translate(704.24,473.20) scale(0.97,1)" font-size="16.3" fill="#111" stroke="#fff" stroke-opacity="0.5" stroke-width="2.6" paint-order="stroke" stroke-linejoin="round">d</text>
<text transform="translate(712.86,475.40) scale(1.0,1)" font-size="12.6" fill="#111" stroke="#fff" stroke-opacity="0.5" stroke-width="2.6" paint-order="stroke" stroke-linejoin="round">a</text>
<text transform="translate(925.04,471.90) scale(0.97,1)" font-size="16.3" fill="#111" stroke="#fff" stroke-opacity="0.5" stroke-width="2.6" paint-order="stroke" stroke-linejoin="round">d</text>
<text transform="translate(934.54,474.40) scale(0.93,1)" font-size="12.6" fill="#111" stroke="#fff" stroke-opacity="0.5" stroke-width="2.6" paint-order="stroke" stroke-linejoin="round">b</text>
<rect x="842.00" y="340.50" width="15.00" height="16.00" rx="0" fill="#fff" stroke="none" stroke-width="1" />
<text transform="translate(842.82,351.60) scale(1.0,1)" font-size="16.2" fill="#111" stroke="#fff" stroke-opacity="0.5" stroke-width="2.6" paint-order="stroke" stroke-linejoin="round">r</text>
<text transform="translate(848.75,353.90) scale(1.0,1)" font-size="13" fill="#111" stroke="#fff" stroke-opacity="0.5" stroke-width="2.6" paint-order="stroke" stroke-linejoin="round">a</text>
<line x1="863.70" y1="348.60" x2="845.80" y2="366.20" stroke="#fff" stroke-width="7" />
<line x1="862.80" y1="349.50" x2="844.20" y2="367.80" stroke="#222" stroke-width="0.9" />
<path d="M844.20,367.80 L852.14,356.62 L855.51,360.04 Z" fill="#111"/>
<text transform="translate(855.82,414.60) scale(1.0,1)" font-size="16.2" fill="#111" stroke="#fff" stroke-opacity="0.5" stroke-width="2.6" paint-order="stroke" stroke-linejoin="round">r</text>
<text transform="translate(862.46,416.70) scale(1.0,1)" font-size="12.6" fill="#111" stroke="#fff" stroke-opacity="0.5" stroke-width="2.6" paint-order="stroke" stroke-linejoin="round">a</text>
<text transform="translate(869.71,416.70) scale(1.0,1)" font-size="13" fill="#111" stroke="#fff" stroke-opacity="0.5" stroke-width="2.6" paint-order="stroke" stroke-linejoin="round">1</text>
<line x1="862.40" y1="427.30" x2="844.20" y2="409.60" stroke="#222" stroke-width="0.9" />
<path d="M844.20,409.60 L855.55,417.29 L852.20,420.73 Z" fill="#111"/>
<text transform="translate(948,583.3) rotate(-90)" font-size="11.5" fill="#111" stroke="#fff" stroke-opacity="0.5" stroke-width="2.6" paint-order="stroke" stroke-linejoin="round">113 423</text>
<text transform="translate(18.60,304.90) scale(0.9300,1)" font-size="20" fill="#111">N</text>
<text transform="translate(342.20,304.90) scale(0.9000,1)" font-size="20" fill="#111">NU</text>
<text transform="translate(18.00,609.50) scale(1.0000,1)" font-size="13.5" fill="#111">1)</text>
<text transform="translate(37.90,619.40) scale(1.0154,1)" font-size="20" fill="#111">Axial displacement “s”</text>
<text transform="translate(37.90,642.40) scale(0.9400,1)" font-size="20" fill="#111">for N and NU</text>
<text transform="translate(340.80,619.60) scale(1.0050,1)" font-size="20" fill="#111">Mounting dimensions for N</text>
<text transform="translate(664.60,619.60) scale(1.0000,1)" font-size="20" fill="#111">Mounting dimensions for NU</text>
<g font-size="9.6" fill="#121212" letter-spacing="0.15" style="mix-blend-mode:color-dodge"><text transform="translate(8.0,16.3) rotate(41.9)">PODSNAB.RU</text><text transform="translate(78.0,16.3) rotate(41.9)">PODSNAB.RU</text><text transform="translate(148.0,16.3) rotate(41.9)">PODSNAB.RU</text><text transform="translate(218.0,16.3) rotate(41.9)">PODSNAB.RU</text><text transform="translate(288.0,16.3) rotate(41.9)">PODSNAB.RU</text><text transform="translate(358.0,16.3) rotate(41.9)">PODSNAB.RU</text><text transform="translate(428.0,16.3) rotate(41.9)">PODSNAB.RU</text><text transform="translate(498.0,16.3) rotate(41.9)">PODSNAB.RU</text><text transform="translate(568.0,16.3) rotate(41.9)">PODSNAB.RU</text><text transform="translate(638.0,16.3) rotate(41.9)">PODSNAB.RU</text><text transform="translate(708.0,16.3) rotate(41.9)">PODSNAB.RU</text><text transform="translate(778.0,16.3) rotate(41.9)">PODSNAB.RU</text><text transform="translate(848.0,16.3) rotate(41.9)">PODSNAB.RU</text><text transform="translate(918.0,16.3) rotate(41.9)">PODSNAB.RU</text><text transform="translate(8.0,86.3) rotate(41.9)">PODSNAB.RU</text><text transform="translate(78.0,86.3) rotate(41.9)">PODSNAB.RU</text><text transform="translate(148.0,86.3) rotate(41.9)">PODSNAB.RU</text><text transform="translate(218.0,86.3) rotate(41.9)">PODSNAB.RU</text><text transform="translate(288.0,86.3) rotate(41.9)">PODSNAB.RU</text><text transform="translate(358.0,86.3) rotate(41.9)">PODSNAB.RU</text><text transform="translate(428.0,86.3) rotate(41.9)">PODSNAB.RU</text><text transform="translate(498.0,86.3) rotate(41.9)">PODSNAB.RU</text><text transform="translate(568.0,86.3) rotate(41.9)">PODSNAB.RU</text><text transform="translate(638.0,86.3) rotate(41.9)">PODSNAB.RU</text><text transform="translate(708.0,86.3) rotate(41.9)">PODSNAB.RU</text><text transform="translate(778.0,86.3) rotate(41.9)">PODSNAB.RU</text><text transform="translate(848.0,86.3) rotate(41.9)">PODSNAB.RU</text><text transform="translate(918.0,86.3) rotate(41.9)">PODSNAB.RU</text><text transform="translate(8.0,156.3) rotate(41.9)">PODSNAB.RU</text><text transform="translate(78.0,156.3) rotate(41.9)">PODSNAB.RU</text><text transform="translate(148.0,156.3) rotate(41.9)">PODSNAB.RU</text><text transform="translate(218.0,156.3) rotate(41.9)">PODSNAB.RU</text><text transform="translate(288.0,156.3) rotate(41.9)">PODSNAB.RU</text><text transform="translate(358.0,156.3) rotate(41.9)">PODSNAB.RU</text><text transform="translate(428.0,156.3) rotate(41.9)">PODSNAB.RU</text><text transform="translate(498.0,156.3) rotate(41.9)">PODSNAB.RU</text><text transform="translate(568.0,156.3) rotate(41.9)">PODSNAB.RU</text><text transform="translate(638.0,156.3) rotate(41.9)">PODSNAB.RU</text><text transform="translate(708.0,156.3) rotate(41.9)">PODSNAB.RU</text><text transform="translate(778.0,156.3) rotate(41.9)">PODSNAB.RU</text><text transform="translate(848.0,156.3) rotate(41.9)">PODSNAB.RU</text><text transform="translate(918.0,156.3) rotate(41.9)">PODSNAB.RU</text><text transform="translate(8.0,226.3) rotate(41.9)">PODSNAB.RU</text><text transform="translate(78.0,226.3) rotate(41.9)">PODSNAB.RU</text><text transform="translate(148.0,226.3) rotate(41.9)">PODSNAB.RU</text><text transform="translate(218.0,226.3) rotate(41.9)">PODSNAB.RU</text><text transform="translate(288.0,226.3) rotate(41.9)">PODSNAB.RU</text><text transform="translate(358.0,226.3) rotate(41.9)">PODSNAB.RU</text><text transform="translate(428.0,226.3) rotate(41.9)">PODSNAB.RU</text><text transform="translate(498.0,226.3) rotate(41.9)">PODSNAB.RU</text><text transform="translate(568.0,226.3) rotate(41.9)">PODSNAB.RU</text><text transform="translate(638.0,226.3) rotate(41.9)">PODSNAB.RU</text><text transform="translate(708.0,226.3) rotate(41.9)">PODSNAB.RU</text><text transform="translate(778.0,226.3) rotate(41.9)">PODSNAB.RU</text><text transform="translate(848.0,226.3) rotate(41.9)">PODSNAB.RU</text><text transform="translate(918.0,226.3) rotate(41.9)">PODSNAB.RU</text><text transform="translate(8.0,296.3) rotate(41.9)">PODSNAB.RU</text><text transform="translate(78.0,296.3) rotate(41.9)">PODSNAB.RU</text><text transform="translate(148.0,296.3) rotate(41.9)">PODSNAB.RU</text><text transform="translate(218.0,296.3) rotate(41.9)">PODSNAB.RU</text><text transform="translate(288.0,296.3) rotate(41.9)">PODSNAB.RU</text><text transform="translate(358.0,296.3) rotate(41.9)">PODSNAB.RU</text><text transform="translate(428.0,296.3) rotate(41.9)">PODSNAB.RU</text><text transform="translate(498.0,296.3) rotate(41.9)">PODSNAB.RU</text><text transform="translate(568.0,296.3) rotate(41.9)">PODSNAB.RU</text><text transform="translate(638.0,296.3) rotate(41.9)">PODSNAB.RU</text><text transform="translate(708.0,296.3) rotate(41.9)">PODSNAB.RU</text><text transform="translate(778.0,296.3) rotate(41.9)">PODSNAB.RU</text><text transform="translate(848.0,296.3) rotate(41.9)">PODSNAB.RU</text><text transform="translate(918.0,296.3) rotate(41.9)">PODSNAB.RU</text><text transform="translate(8.0,366.3) rotate(41.9)">PODSNAB.RU</text><text transform="translate(78.0,366.3) rotate(41.9)">PODSNAB.RU</text><text transform="translate(148.0,366.3) rotate(41.9)">PODSNAB.RU</text><text transform="translate(218.0,366.3) rotate(41.9)">PODSNAB.RU</text><text transform="translate(288.0,366.3) rotate(41.9)">PODSNAB.RU</text><text transform="translate(358.0,366.3) rotate(41.9)">PODSNAB.RU</text><text transform="translate(428.0,366.3) rotate(41.9)">PODSNAB.RU</text><text transform="translate(498.0,366.3) rotate(41.9)">PODSNAB.RU</text><text transform="translate(568.0,366.3) rotate(41.9)">PODSNAB.RU</text><text transform="translate(638.0,366.3) rotate(41.9)">PODSNAB.RU</text><text transform="translate(708.0,366.3) rotate(41.9)">PODSNAB.RU</text><text transform="translate(778.0,366.3) rotate(41.9)">PODSNAB.RU</text><text transform="translate(848.0,366.3) rotate(41.9)">PODSNAB.RU</text><text transform="translate(918.0,366.3) rotate(41.9)">PODSNAB.RU</text><text transform="translate(8.0,436.3) rotate(41.9)">PODSNAB.RU</text><text transform="translate(78.0,436.3) rotate(41.9)">PODSNAB.RU</text><text transform="translate(148.0,436.3) rotate(41.9)">PODSNAB.RU</text><text transform="translate(218.0,436.3) rotate(41.9)">PODSNAB.RU</text><text transform="translate(288.0,436.3) rotate(41.9)">PODSNAB.RU</text><text transform="translate(358.0,436.3) rotate(41.9)">PODSNAB.RU</text><text transform="translate(428.0,436.3) rotate(41.9)">PODSNAB.RU</text><text transform="translate(498.0,436.3) rotate(41.9)">PODSNAB.RU</text><text transform="translate(568.0,436.3) rotate(41.9)">PODSNAB.RU</text><text transform="translate(638.0,436.3) rotate(41.9)">PODSNAB.RU</text><text transform="translate(708.0,436.3) rotate(41.9)">PODSNAB.RU</text><text transform="translate(778.0,436.3) rotate(41.9)">PODSNAB.RU</text><text transform="translate(848.0,436.3) rotate(41.9)">PODSNAB.RU</text><text transform="translate(918.0,436.3) rotate(41.9)">PODSNAB.RU</text><text transform="translate(8.0,506.3) rotate(41.9)">PODSNAB.RU</text><text transform="translate(78.0,506.3) rotate(41.9)">PODSNAB.RU</text><text transform="translate(148.0,506.3) rotate(41.9)">PODSNAB.RU</text><text transform="translate(218.0,506.3) rotate(41.9)">PODSNAB.RU</text><text transform="translate(288.0,506.3) rotate(41.9)">PODSNAB.RU</text><text transform="translate(358.0,506.3) rotate(41.9)">PODSNAB.RU</text><text transform="translate(428.0,506.3) rotate(41.9)">PODSNAB.RU</text><text transform="translate(498.0,506.3) rotate(41.9)">PODSNAB.RU</text><text transform="translate(568.0,506.3) rotate(41.9)">PODSNAB.RU</text><text transform="translate(638.0,506.3) rotate(41.9)">PODSNAB.RU</text><text transform="translate(708.0,506.3) rotate(41.9)">PODSNAB.RU</text><text transform="translate(778.0,506.3) rotate(41.9)">PODSNAB.RU</text><text transform="translate(848.0,506.3) rotate(41.9)">PODSNAB.RU</text><text transform="translate(918.0,506.3) rotate(41.9)">PODSNAB.RU</text><text transform="translate(8.0,576.3) rotate(41.9)">PODSNAB.RU</text><text transform="translate(78.0,576.3) rotate(41.9)">PODSNAB.RU</text><text transform="translate(148.0,576.3) rotate(41.9)">PODSNAB.RU</text><text transform="translate(218.0,576.3) rotate(41.9)">PODSNAB.RU</text><text transform="translate(288.0,576.3) rotate(41.9)">PODSNAB.RU</text><text transform="translate(358.0,576.3) rotate(41.9)">PODSNAB.RU</text><text transform="translate(428.0,576.3) rotate(41.9)">PODSNAB.RU</text><text transform="translate(498.0,576.3) rotate(41.9)">PODSNAB.RU</text><text transform="translate(568.0,576.3) rotate(41.9)">PODSNAB.RU</text><text transform="translate(638.0,576.3) rotate(41.9)">PODSNAB.RU</text><text transform="translate(708.0,576.3) rotate(41.9)">PODSNAB.RU</text><text transform="translate(778.0,576.3) rotate(41.9)">PODSNAB.RU</text><text transform="translate(848.0,576.3) rotate(41.9)">PODSNAB.RU</text><text transform="translate(918.0,576.3) rotate(41.9)">PODSNAB.RU</text><text transform="translate(8.0,646.3) rotate(41.9)">PODSNAB.RU</text><text transform="translate(78.0,646.3) rotate(41.9)">PODSNAB.RU</text><text transform="translate(148.0,646.3) rotate(41.9)">PODSNAB.RU</text><text transform="translate(218.0,646.3) rotate(41.9)">PODSNAB.RU</text><text transform="translate(288.0,646.3) rotate(41.9)">PODSNAB.RU</text><text transform="translate(358.0,646.3) rotate(41.9)">PODSNAB.RU</text><text transform="translate(428.0,646.3) rotate(41.9)">PODSNAB.RU</text><text transform="translate(498.0,646.3) rotate(41.9)">PODSNAB.RU</text><text transform="translate(568.0,646.3) rotate(41.9)">PODSNAB.RU</text><text transform="translate(638.0,646.3) rotate(41.9)">PODSNAB.RU</text><text transform="translate(708.0,646.3) rotate(41.9)">PODSNAB.RU</text><text transform="translate(778.0,646.3) rotate(41.9)">PODSNAB.RU</text><text transform="translate(848.0,646.3) rotate(41.9)">PODSNAB.RU</text><text transform="translate(918.0,646.3) rotate(41.9)">PODSNAB.RU</text></g>
<g font-size="9.6" fill="none" stroke="#b8c2d0" stroke-opacity="0.42" stroke-width="0.45" letter-spacing="0.15" style="mix-blend-mode:darken"><text transform="translate(8.0,16.3) rotate(41.9)">PODSNAB.RU</text><text transform="translate(78.0,16.3) rotate(41.9)">PODSNAB.RU</text><text transform="translate(148.0,16.3) rotate(41.9)">PODSNAB.RU</text><text transform="translate(218.0,16.3) rotate(41.9)">PODSNAB.RU</text><text transform="translate(288.0,16.3) rotate(41.9)">PODSNAB.RU</text><text transform="translate(358.0,16.3) rotate(41.9)">PODSNAB.RU</text><text transform="translate(428.0,16.3) rotate(41.9)">PODSNAB.RU</text><text transform="translate(498.0,16.3) rotate(41.9)">PODSNAB.RU</text><text transform="translate(568.0,16.3) rotate(41.9)">PODSNAB.RU</text><text transform="translate(638.0,16.3) rotate(41.9)">PODSNAB.RU</text><text transform="translate(708.0,16.3) rotate(41.9)">PODSNAB.RU</text><text transform="translate(778.0,16.3) rotate(41.9)">PODSNAB.RU</text><text transform="translate(848.0,16.3) rotate(41.9)">PODSNAB.RU</text><text transform="translate(918.0,16.3) rotate(41.9)">PODSNAB.RU</text><text transform="translate(8.0,86.3) rotate(41.9)">PODSNAB.RU</text><text transform="translate(78.0,86.3) rotate(41.9)">PODSNAB.RU</text><text transform="translate(148.0,86.3) rotate(41.9)">PODSNAB.RU</text><text transform="translate(218.0,86.3) rotate(41.9)">PODSNAB.RU</text><text transform="translate(288.0,86.3) rotate(41.9)">PODSNAB.RU</text><text transform="translate(358.0,86.3) rotate(41.9)">PODSNAB.RU</text><text transform="translate(428.0,86.3) rotate(41.9)">PODSNAB.RU</text><text transform="translate(498.0,86.3) rotate(41.9)">PODSNAB.RU</text><text transform="translate(568.0,86.3) rotate(41.9)">PODSNAB.RU</text><text transform="translate(638.0,86.3) rotate(41.9)">PODSNAB.RU</text><text transform="translate(708.0,86.3) rotate(41.9)">PODSNAB.RU</text><text transform="translate(778.0,86.3) rotate(41.9)">PODSNAB.RU</text><text transform="translate(848.0,86.3) rotate(41.9)">PODSNAB.RU</text><text transform="translate(918.0,86.3) rotate(41.9)">PODSNAB.RU</text><text transform="translate(8.0,156.3) rotate(41.9)">PODSNAB.RU</text><text transform="translate(78.0,156.3) rotate(41.9)">PODSNAB.RU</text><text transform="translate(148.0,156.3) rotate(41.9)">PODSNAB.RU</text><text transform="translate(218.0,156.3) rotate(41.9)">PODSNAB.RU</text><text transform="translate(288.0,156.3) rotate(41.9)">PODSNAB.RU</text><text transform="translate(358.0,156.3) rotate(41.9)">PODSNAB.RU</text><text transform="translate(428.0,156.3) rotate(41.9)">PODSNAB.RU</text><text transform="translate(498.0,156.3) rotate(41.9)">PODSNAB.RU</text><text transform="translate(568.0,156.3) rotate(41.9)">PODSNAB.RU</text><text transform="translate(638.0,156.3) rotate(41.9)">PODSNAB.RU</text><text transform="translate(708.0,156.3) rotate(41.9)">PODSNAB.RU</text><text transform="translate(778.0,156.3) rotate(41.9)">PODSNAB.RU</text><text transform="translate(848.0,156.3) rotate(41.9)">PODSNAB.RU</text><text transform="translate(918.0,156.3) rotate(41.9)">PODSNAB.RU</text><text transform="translate(8.0,226.3) rotate(41.9)">PODSNAB.RU</text><text transform="translate(78.0,226.3) rotate(41.9)">PODSNAB.RU</text><text transform="translate(148.0,226.3) rotate(41.9)">PODSNAB.RU</text><text transform="translate(218.0,226.3) rotate(41.9)">PODSNAB.RU</text><text transform="translate(288.0,226.3) rotate(41.9)">PODSNAB.RU</text><text transform="translate(358.0,226.3) rotate(41.9)">PODSNAB.RU</text><text transform="translate(428.0,226.3) rotate(41.9)">PODSNAB.RU</text><text transform="translate(498.0,226.3) rotate(41.9)">PODSNAB.RU</text><text transform="translate(568.0,226.3) rotate(41.9)">PODSNAB.RU</text><text transform="translate(638.0,226.3) rotate(41.9)">PODSNAB.RU</text><text transform="translate(708.0,226.3) rotate(41.9)">PODSNAB.RU</text><text transform="translate(778.0,226.3) rotate(41.9)">PODSNAB.RU</text><text transform="translate(848.0,226.3) rotate(41.9)">PODSNAB.RU</text><text transform="translate(918.0,226.3) rotate(41.9)">PODSNAB.RU</text><text transform="translate(8.0,296.3) rotate(41.9)">PODSNAB.RU</text><text transform="translate(78.0,296.3) rotate(41.9)">PODSNAB.RU</text><text transform="translate(148.0,296.3) rotate(41.9)">PODSNAB.RU</text><text transform="translate(218.0,296.3) rotate(41.9)">PODSNAB.RU</text><text transform="translate(288.0,296.3) rotate(41.9)">PODSNAB.RU</text><text transform="translate(358.0,296.3) rotate(41.9)">PODSNAB.RU</text><text transform="translate(428.0,296.3) rotate(41.9)">PODSNAB.RU</text><text transform="translate(498.0,296.3) rotate(41.9)">PODSNAB.RU</text><text transform="translate(568.0,296.3) rotate(41.9)">PODSNAB.RU</text><text transform="translate(638.0,296.3) rotate(41.9)">PODSNAB.RU</text><text transform="translate(708.0,296.3) rotate(41.9)">PODSNAB.RU</text><text transform="translate(778.0,296.3) rotate(41.9)">PODSNAB.RU</text><text transform="translate(848.0,296.3) rotate(41.9)">PODSNAB.RU</text><text transform="translate(918.0,296.3) rotate(41.9)">PODSNAB.RU</text><text transform="translate(8.0,366.3) rotate(41.9)">PODSNAB.RU</text><text transform="translate(78.0,366.3) rotate(41.9)">PODSNAB.RU</text><text transform="translate(148.0,366.3) rotate(41.9)">PODSNAB.RU</text><text transform="translate(218.0,366.3) rotate(41.9)">PODSNAB.RU</text><text transform="translate(288.0,366.3) rotate(41.9)">PODSNAB.RU</text><text transform="translate(358.0,366.3) rotate(41.9)">PODSNAB.RU</text><text transform="translate(428.0,366.3) rotate(41.9)">PODSNAB.RU</text><text transform="translate(498.0,366.3) rotate(41.9)">PODSNAB.RU</text><text transform="translate(568.0,366.3) rotate(41.9)">PODSNAB.RU</text><text transform="translate(638.0,366.3) rotate(41.9)">PODSNAB.RU</text><text transform="translate(708.0,366.3) rotate(41.9)">PODSNAB.RU</text><text transform="translate(778.0,366.3) rotate(41.9)">PODSNAB.RU</text><text transform="translate(848.0,366.3) rotate(41.9)">PODSNAB.RU</text><text transform="translate(918.0,366.3) rotate(41.9)">PODSNAB.RU</text><text transform="translate(8.0,436.3) rotate(41.9)">PODSNAB.RU</text><text transform="translate(78.0,436.3) rotate(41.9)">PODSNAB.RU</text><text transform="translate(148.0,436.3) rotate(41.9)">PODSNAB.RU</text><text transform="translate(218.0,436.3) rotate(41.9)">PODSNAB.RU</text><text transform="translate(288.0,436.3) rotate(41.9)">PODSNAB.RU</text><text transform="translate(358.0,436.3) rotate(41.9)">PODSNAB.RU</text><text transform="translate(428.0,436.3) rotate(41.9)">PODSNAB.RU</text><text transform="translate(498.0,436.3) rotate(41.9)">PODSNAB.RU</text><text transform="translate(568.0,436.3) rotate(41.9)">PODSNAB.RU</text><text transform="translate(638.0,436.3) rotate(41.9)">PODSNAB.RU</text><text transform="translate(708.0,436.3) rotate(41.9)">PODSNAB.RU</text><text transform="translate(778.0,436.3) rotate(41.9)">PODSNAB.RU</text><text transform="translate(848.0,436.3) rotate(41.9)">PODSNAB.RU</text><text transform="translate(918.0,436.3) rotate(41.9)">PODSNAB.RU</text><text transform="translate(8.0,506.3) rotate(41.9)">PODSNAB.RU</text><text transform="translate(78.0,506.3) rotate(41.9)">PODSNAB.RU</text><text transform="translate(148.0,506.3) rotate(41.9)">PODSNAB.RU</text><text transform="translate(218.0,506.3) rotate(41.9)">PODSNAB.RU</text><text transform="translate(288.0,506.3) rotate(41.9)">PODSNAB.RU</text><text transform="translate(358.0,506.3) rotate(41.9)">PODSNAB.RU</text><text transform="translate(428.0,506.3) rotate(41.9)">PODSNAB.RU</text><text transform="translate(498.0,506.3) rotate(41.9)">PODSNAB.RU</text><text transform="translate(568.0,506.3) rotate(41.9)">PODSNAB.RU</text><text transform="translate(638.0,506.3) rotate(41.9)">PODSNAB.RU</text><text transform="translate(708.0,506.3) rotate(41.9)">PODSNAB.RU</text><text transform="translate(778.0,506.3) rotate(41.9)">PODSNAB.RU</text><text transform="translate(848.0,506.3) rotate(41.9)">PODSNAB.RU</text><text transform="translate(918.0,506.3) rotate(41.9)">PODSNAB.RU</text><text transform="translate(8.0,576.3) rotate(41.9)">PODSNAB.RU</text><text transform="translate(78.0,576.3) rotate(41.9)">PODSNAB.RU</text><text transform="translate(148.0,576.3) rotate(41.9)">PODSNAB.RU</text><text transform="translate(218.0,576.3) rotate(41.9)">PODSNAB.RU</text><text transform="translate(288.0,576.3) rotate(41.9)">PODSNAB.RU</text><text transform="translate(358.0,576.3) rotate(41.9)">PODSNAB.RU</text><text transform="translate(428.0,576.3) rotate(41.9)">PODSNAB.RU</text><text transform="translate(498.0,576.3) rotate(41.9)">PODSNAB.RU</text><text transform="translate(568.0,576.3) rotate(41.9)">PODSNAB.RU</text><text transform="translate(638.0,576.3) rotate(41.9)">PODSNAB.RU</text><text transform="translate(708.0,576.3) rotate(41.9)">PODSNAB.RU</text><text transform="translate(778.0,576.3) rotate(41.9)">PODSNAB.RU</text><text transform="translate(848.0,576.3) rotate(41.9)">PODSNAB.RU</text><text transform="translate(918.0,576.3) rotate(41.9)">PODSNAB.RU</text><text transform="translate(8.0,646.3) rotate(41.9)">PODSNAB.RU</text><text transform="translate(78.0,646.3) rotate(41.9)">PODSNAB.RU</text><text transform="translate(148.0,646.3) rotate(41.9)">PODSNAB.RU</text><text transform="translate(218.0,646.3) rotate(41.9)">PODSNAB.RU</text><text transform="translate(288.0,646.3) rotate(41.9)">PODSNAB.RU</text><text transform="translate(358.0,646.3) rotate(41.9)">PODSNAB.RU</text><text transform="translate(428.0,646.3) rotate(41.9)">PODSNAB.RU</text><text transform="translate(498.0,646.3) rotate(41.9)">PODSNAB.RU</text><text transform="translate(568.0,646.3) rotate(41.9)">PODSNAB.RU</text><text transform="translate(638.0,646.3) rotate(41.9)">PODSNAB.RU</text><text transform="translate(708.0,646.3) rotate(41.9)">PODSNAB.RU</text><text transform="translate(778.0,646.3) rotate(41.9)">PODSNAB.RU</text><text transform="translate(848.0,646.3) rotate(41.9)">PODSNAB.RU</text><text transform="translate(918.0,646.3) rotate(41.9)">PODSNAB.RU</text></g>
</svg></body></html>
